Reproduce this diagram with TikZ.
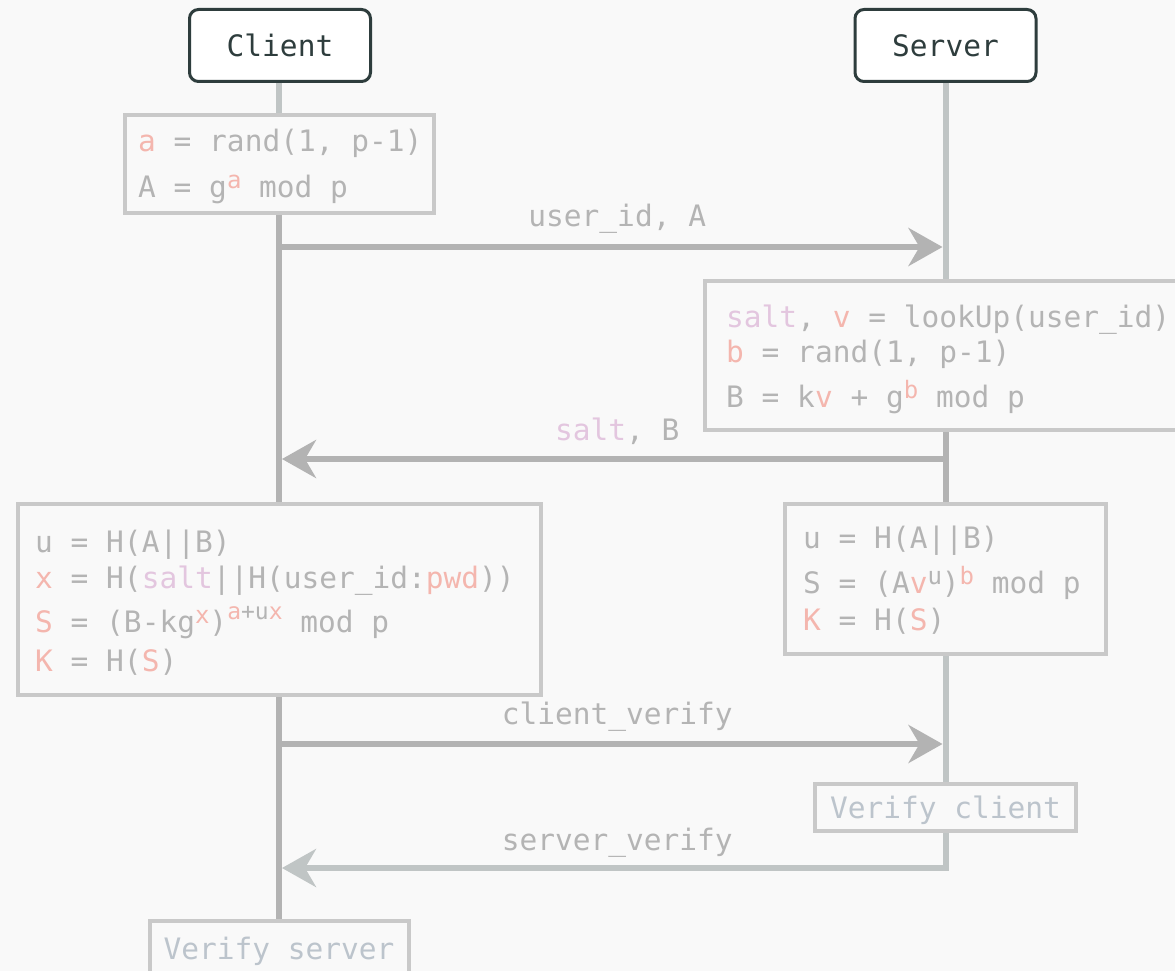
\documentclass[tikz,border=0pt]{standalone}
\usepackage{fontspec}
\newfontfamily\monof{DejaVu Sans Mono}
\usetikzlibrary{arrows.meta}
\definecolor{bgc}{HTML}{F9F9F9}
\definecolor{txc}{HTML}{B4B4B4}
\definecolor{pkc}{HTML}{F4B6AE}
\definecolor{puc}{HTML}{E3C6DF}
\definecolor{frc}{HTML}{C9C9C9}
\definecolor{arc}{HTML}{B3B3B3}
\definecolor{llc}{HTML}{C0C5C5}
\definecolor{dkc}{HTML}{2E3D3D}
\definecolor{vtc}{HTML}{BCC4CC}
\newcommand\cred[1]{\textcolor{pkc}{#1}}
\newcommand\cpur[1]{\textcolor{puc}{#1}}
\newcommand\supA[1]{\raisebox{9pt}{\fontsize{24}{24}\selectfont #1}}
\newcommand\supB[1]{\raisebox{13pt}{\fontsize{23}{23}\selectfont #1}}
\begin{document}
\begin{tikzpicture}[x=1pt,y=-1pt,
  base font/.style={font=\monof\fontsize{29.5}{36}\selectfont},
  actor/.style={base font, draw=dkc, line width=3pt, rounded corners=9pt, fill=white,
    minimum width=181pt, minimum height=72pt, inner sep=0pt, text=dkc},
  frame/.style={draw=frc, line width=4pt, inner sep=0pt},
  txt/.style={base font, text=txc, inner sep=0pt, anchor=base west},
  vtxt/.style={base font, draw=frc, line width=4pt, inner sep=0pt, text=vtc, text depth=0pt},
  life/.style={draw=llc, line width=6pt},
  lifed/.style={draw=arc, line width=6pt},
  msg/.style={draw=arc, line width=6pt, -{Stealth[length=34pt,width=38pt,inset=11pt]}, shorten >=3pt},
  msgb/.style={draw=llc, line width=6pt, -{Stealth[length=34pt,width=38pt,inset=11pt]}, shorten >=3pt},
  lbl/.style={base font, text=txc, inner sep=0pt, anchor=base}
]
\useasboundingbox (0,0) rectangle (1175,971);
\fill[bgc] (0,0) rectangle (1175,971);

% actors
\node[actor] (client) at (280,45.5) {Client};
\node[actor] (server) at (945.5,45.5) {Server};

% frames
\node[frame, minimum width=309pt, minimum height=98pt] (cb1) at (279,164) {};
\node[frame, minimum width=490pt, minimum height=149pt] (sb1) at (950,355.5) {};
\node[frame, minimum width=523pt, minimum height=191pt] (cb2) at (279,599.5) {};
\node[frame, minimum width=321pt, minimum height=150pt] (sb2) at (945.5,579) {};
\node[vtxt, minimum width=261pt, minimum height=47pt] (vc) at (945.5,807.5) {Verify client};
\node[vtxt, minimum width=259pt, minimum height=54pt] (vs) at (279,948) {Verify server};

% lifelines
\draw[life] (client.south -| cb1.north) -- (cb1.north);
\draw[lifed] (cb1.south) -- (cb2.north);
\draw[lifed] (cb2.south) -- (vs.north);
\draw[life] (server.south) -- (server.south |- sb1.north);
\draw[lifed] (server.south |- sb1.south) -- (sb2.north);
\draw[life] (sb2.south) -- (vc.north);

% message end points
\coordinate (m1s) at (279,247);
\coordinate (m1e) at (945.5,247);
\coordinate (m2s) at (945.5,459);
\coordinate (m2e) at (279,459);
\coordinate (m3s) at (279,744);
\coordinate (m3e) at (945.5,744);
\coordinate (m4e) at (279,868);

\draw[msg] (m1s) -- node[lbl, xshift=5pt, yshift=21pt] (l1) {user\_id, A} (m1e);
\draw[msg] (m2s) -- node[lbl, xshift=5pt, yshift=19pt] (l2) {\cpur{salt}, B} (m2e);
\draw[msg] (m3s) -- node[lbl, xshift=5pt, yshift=20pt] (l3) {client\_verify} (m3e);
\draw[msgb] (vc.south) |- node[lbl, pos=0.75, xshift=5pt, yshift=18pt] (l4) {server\_verify} (m4e);

% client box 1
\node[txt] (cb1a) at (138,151) {\cred{a} = rand(1, p-1)};
\node[txt] (cb1b) at (138,197) {A = g\supA{\cred{a}} mod p};

% server box 1
\node[txt] (sb1a) at (726,327) {\cpur{salt}, \cred{v} = lookUp(user\_id)};
\node[txt] (sb1b) at (726,362) {\cred{b} = rand(1, p-1)};
\node[txt] (sb1c) at (726,407) {B = k\cred{v} + g\supA{\cred{b}} mod p};

% client box 2
\node[txt] (cb2a) at (35,552) {u = H(A||B)};
\node[txt] (cb2b) at (35,588) {\cred{x} = H(\cpur{salt}||H(user\_id:\cred{pwd}))};
\node[txt] (cb2c) at (35,632) {\cred{S} = (B-kg\supA{\cred{x}})\supB{\cred{a}+u\cred{x}} mod p};
\node[txt] (cb2d) at (35,671) {\cred{K} = H(\cred{S})};

% server box 2
\node[txt] (sb2a) at (803,548) {u = H(A||B)};
\node[txt] (sb2b) at (803,593) {S = (A\cred{v}\supA{u})\supA{\cred{b}} mod p};
\node[txt] (sb2c) at (803,630) {\cred{K} = H(\cred{S})};
\end{tikzpicture}
\end{document}
